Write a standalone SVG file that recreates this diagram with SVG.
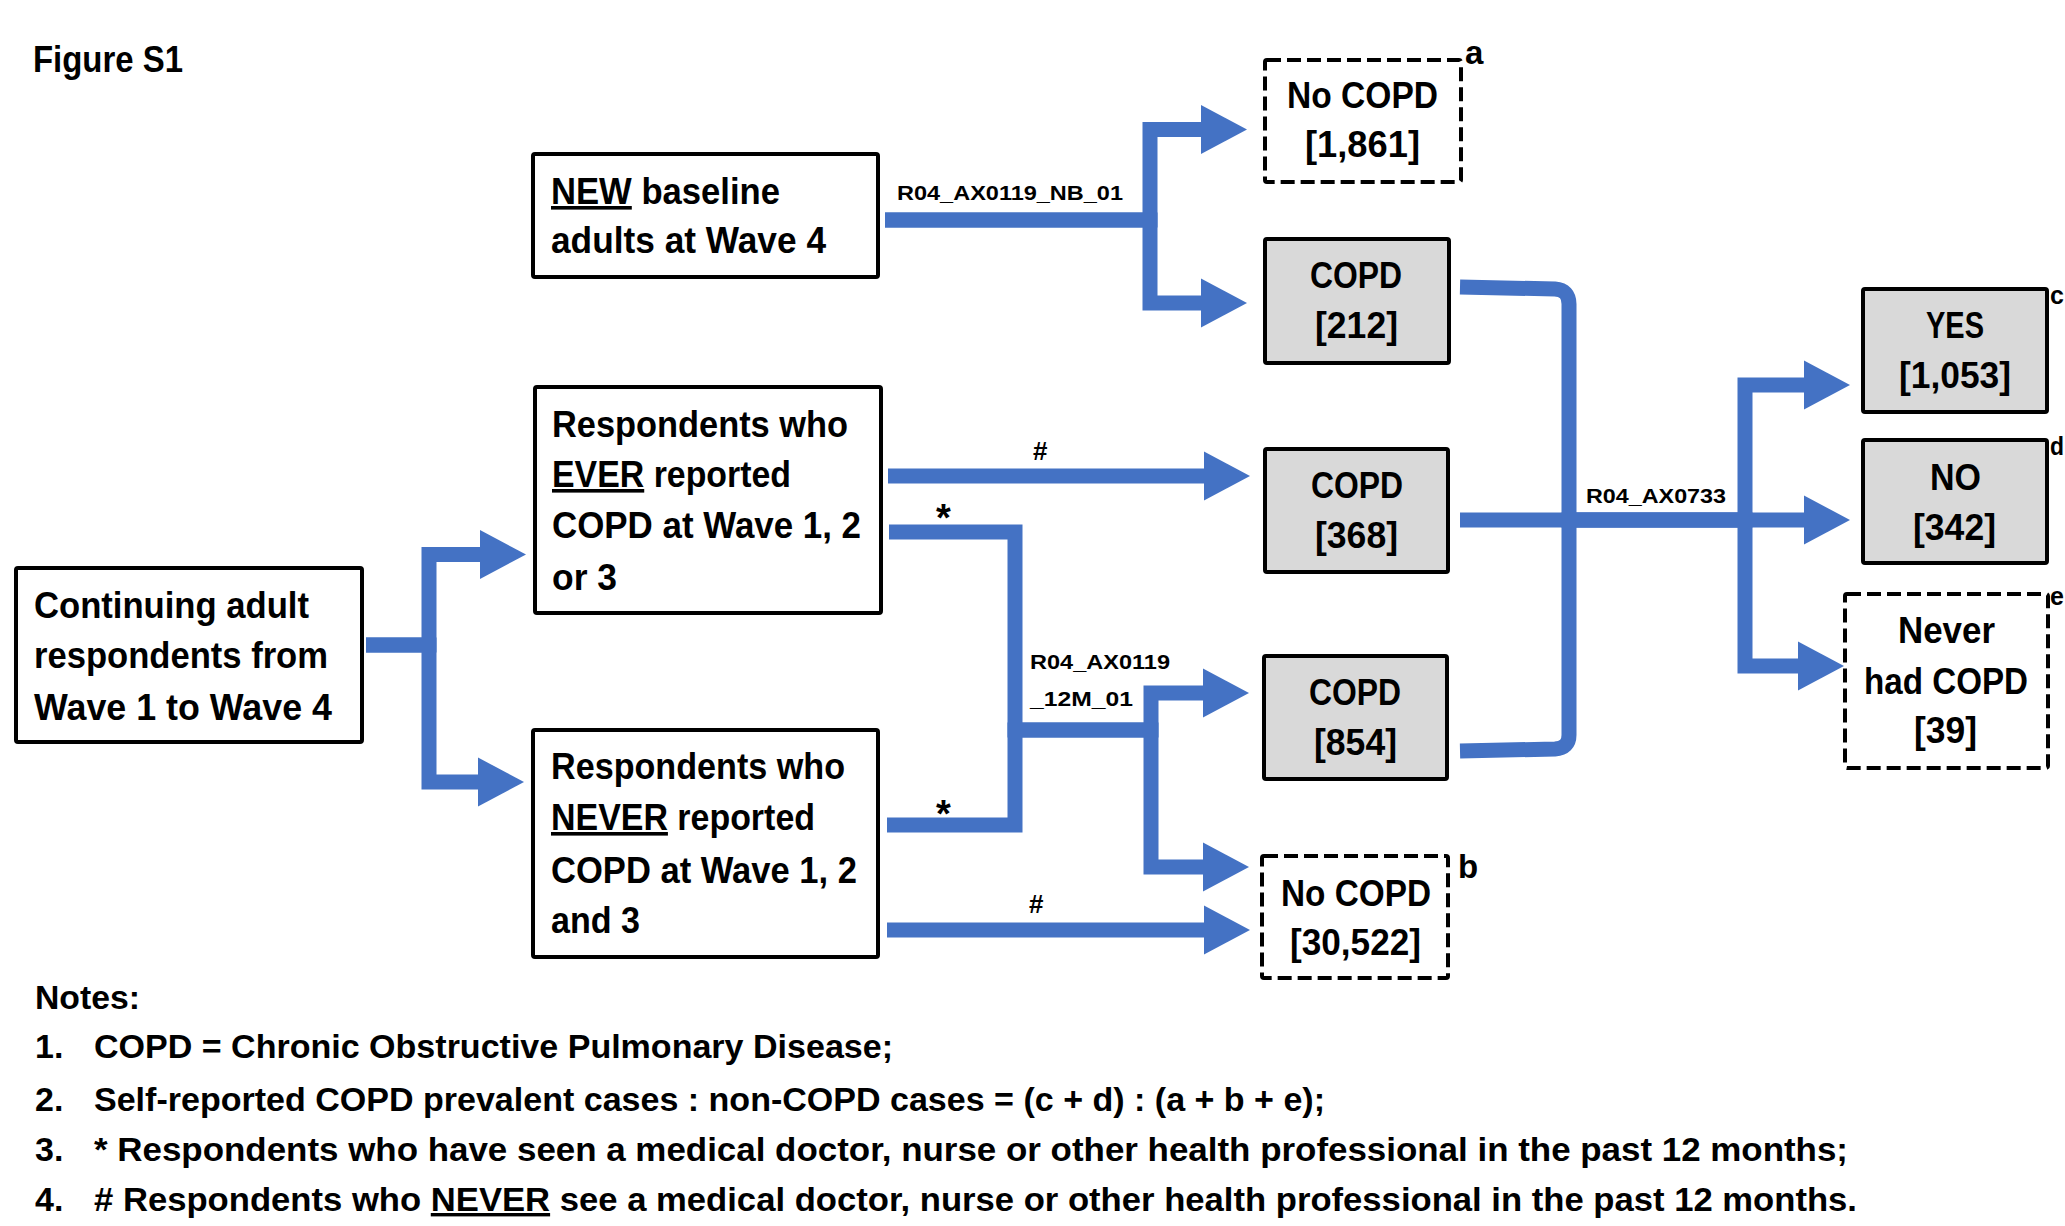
<svg xmlns="http://www.w3.org/2000/svg" width="2065" height="1226" viewBox="0 0 2065 1226">
<style>
.t{font-family:"Liberation Sans",Arial,sans-serif;font-weight:bold;fill:#000}
.n{font-size:36px}
.s{font-size:21px}
.m{font-size:34px}
.l{font-size:33px}
.r{font-size:25px}
.u{text-decoration:underline}
.box{fill:#fff;stroke:#000;stroke-width:4}
.grey{fill:#D9D9D9}
.dash{stroke-dasharray:14 6}
.conn{fill:none;stroke:#4472C4;stroke-width:15;stroke-linejoin:miter}
</style>
<defs>
<marker id="ah" markerUnits="userSpaceOnUse" markerWidth="48" markerHeight="50" viewBox="0 -25 48 50" refX="1" refY="0" orient="auto">
<path d="M0,-24.5 L46,0 L0,24.5 z" fill="#4472C4"/>
</marker>
</defs>
<rect width="2065" height="1226" fill="#fff"/>
<text class="t" style="font-size:37px" x="33" y="72" textLength="150" lengthAdjust="spacingAndGlyphs">Figure S1</text>

<g id="connectors">
<path class="conn" d="M366,645 H429 V554.5 H481" marker-end="url(#ah)"/>
<path class="conn" d="M366,645 H429 V782 H479" marker-end="url(#ah)"/>
<path class="conn" d="M885,220 H1150 V129.5 H1202" marker-end="url(#ah)"/>
<path class="conn" d="M885,220 H1150 V303 H1202" marker-end="url(#ah)"/>
<path class="conn" d="M888,476 H1205" marker-end="url(#ah)"/>
<path class="conn" d="M889,532 H1015 V730 H1151 V693 H1204" marker-end="url(#ah)"/>
<path class="conn" d="M887,825 H1015 V730 H1151 V867 H1204" marker-end="url(#ah)"/>
<path class="conn" d="M887,930 H1205" marker-end="url(#ah)"/>
<path class="conn" d="M1460,287 L1555,289 Q1569,290 1569,304 V520 H1745 V385 H1805" marker-end="url(#ah)"/>
<path class="conn" d="M1460,520 H1805" marker-end="url(#ah)"/>
<path class="conn" d="M1460,751 L1555,749 Q1569,748 1569,735 V520 H1745 V666 H1799" marker-end="url(#ah)"/>
<text class="t s" x="897" y="200" textLength="226" lengthAdjust="spacingAndGlyphs">R04_AX0119_NB_01</text>
<text class="t" style="font-size:26px" x="1033" y="460">#</text>
<text class="t" style="font-size:38px" x="936" y="531">*</text>
<text class="t" style="font-size:38px" x="936" y="827">*</text>
<text class="t" style="font-size:26px" x="1029" y="913">#</text>
<text class="t s" x="1030" y="669" textLength="140" lengthAdjust="spacingAndGlyphs">R04_AX0119</text>
<text class="t s" x="1030" y="706" textLength="103" lengthAdjust="spacingAndGlyphs">_12M_01</text>
<text class="t s" x="1586" y="503" textLength="140" lengthAdjust="spacingAndGlyphs">R04_AX0733</text>
</g>

<g id="node-new">
<rect class="box" x="533" y="154" width="345" height="123" rx="2"/>
<text class="t n" x="551" y="204" textLength="229" lengthAdjust="spacingAndGlyphs"><tspan class="u">NEW</tspan> baseline</text>
<text class="t n" x="551" y="253" textLength="275" lengthAdjust="spacingAndGlyphs">adults at Wave 4</text>
</g>

<g id="node-continuing">
<rect class="box" x="16" y="568" width="346" height="174" rx="2"/>
<text class="t n" x="34" y="618" textLength="275" lengthAdjust="spacingAndGlyphs">Continuing adult</text>
<text class="t n" x="34" y="668" textLength="294" lengthAdjust="spacingAndGlyphs">respondents from</text>
<text class="t n" x="34" y="720" textLength="298" lengthAdjust="spacingAndGlyphs">Wave 1 to Wave 4</text>
</g>

<g id="node-ever">
<rect class="box" x="535" y="387" width="346" height="226" rx="2"/>
<text class="t n" x="552" y="437" textLength="296" lengthAdjust="spacingAndGlyphs">Respondents who</text>
<text class="t n" x="552" y="487" textLength="239" lengthAdjust="spacingAndGlyphs"><tspan class="u">EVER</tspan> reported</text>
<text class="t n" x="552" y="538" textLength="309" lengthAdjust="spacingAndGlyphs">COPD at Wave 1, 2</text>
<text class="t n" x="552" y="590" textLength="65" lengthAdjust="spacingAndGlyphs">or 3</text>
</g>

<g id="node-never">
<rect class="box" x="533" y="730" width="345" height="227" rx="2"/>
<text class="t n" x="551" y="779" textLength="294" lengthAdjust="spacingAndGlyphs">Respondents who</text>
<text class="t n" x="551" y="830" textLength="264" lengthAdjust="spacingAndGlyphs"><tspan class="u">NEVER</tspan> reported</text>
<text class="t n" x="551" y="883" textLength="306" lengthAdjust="spacingAndGlyphs">COPD at Wave 1, 2</text>
<text class="t n" x="551" y="933" textLength="89" lengthAdjust="spacingAndGlyphs">and 3</text>
</g>

<g id="node-nocopd-a">
<rect class="box dash" x="1265" y="60" width="196" height="122" rx="2"/>
<text class="t n" x="1287" y="108" textLength="151" lengthAdjust="spacingAndGlyphs">No COPD</text>
<text class="t n" x="1305" y="157" textLength="115" lengthAdjust="spacingAndGlyphs">[1,861]</text>
<text class="t l" x="1465" y="64">a</text>
</g>

<g id="node-copd-212">
<rect class="box grey" x="1265" y="239" width="184" height="124" rx="2"/>
<text class="t n" x="1310" y="288" textLength="92" lengthAdjust="spacingAndGlyphs">COPD</text>
<text class="t n" x="1315" y="338" textLength="83" lengthAdjust="spacingAndGlyphs">[212]</text>
</g>

<g id="node-copd-368">
<rect class="box grey" x="1265" y="449" width="183" height="123" rx="2"/>
<text class="t n" x="1311" y="498" textLength="92" lengthAdjust="spacingAndGlyphs">COPD</text>
<text class="t n" x="1315" y="548" textLength="83" lengthAdjust="spacingAndGlyphs">[368]</text>
</g>

<g id="node-copd-854">
<rect class="box grey" x="1264" y="656" width="183" height="123" rx="2"/>
<text class="t n" x="1309" y="705" textLength="92" lengthAdjust="spacingAndGlyphs">COPD</text>
<text class="t n" x="1314" y="755" textLength="83" lengthAdjust="spacingAndGlyphs">[854]</text>
</g>

<g id="node-nocopd-b">
<rect class="box dash" x="1262" y="856" width="186" height="122" rx="2"/>
<text class="t n" x="1281" y="906" textLength="150" lengthAdjust="spacingAndGlyphs">No COPD</text>
<text class="t n" x="1290" y="955" textLength="131" lengthAdjust="spacingAndGlyphs">[30,522]</text>
<text class="t l" x="1458" y="878">b</text>
</g>

<g id="node-yes">
<rect class="box grey" x="1863" y="289" width="184" height="123" rx="2"/>
<text class="t n" x="1926" y="338" textLength="58" lengthAdjust="spacingAndGlyphs">YES</text>
<text class="t n" x="1899" y="388" textLength="112" lengthAdjust="spacingAndGlyphs">[1,053]</text>
<text class="t r" x="2050" y="304">c</text>
</g>

<g id="node-no">
<rect class="box grey" x="1863" y="440" width="184" height="123" rx="2"/>
<text class="t n" x="1930" y="490" textLength="51" lengthAdjust="spacingAndGlyphs">NO</text>
<text class="t n" x="1913" y="540" textLength="83" lengthAdjust="spacingAndGlyphs">[342]</text>
<text class="t r" x="2050" y="455" textLength="14" lengthAdjust="spacingAndGlyphs">d</text>
</g>

<g id="node-never-had">
<rect class="box dash" x="1845" y="594" width="203" height="174" rx="2"/>
<text class="t n" x="1898" y="643" textLength="97" lengthAdjust="spacingAndGlyphs">Never</text>
<text class="t n" x="1864" y="694" textLength="164" lengthAdjust="spacingAndGlyphs">had COPD</text>
<text class="t n" x="1914" y="743" textLength="63" lengthAdjust="spacingAndGlyphs">[39]</text>
<text class="t r" x="2050" y="605">e</text>
</g>

<g id="notes">
<text class="t m" x="35" y="1009" textLength="105" lengthAdjust="spacingAndGlyphs">Notes:</text>
<text class="t m" x="35" y="1058">1.</text>
<text class="t m" x="94" y="1058" textLength="799" lengthAdjust="spacingAndGlyphs">COPD = Chronic Obstructive Pulmonary Disease;</text>
<text class="t m" x="35" y="1111">2.</text>
<text class="t m" x="94" y="1111" textLength="1231" lengthAdjust="spacingAndGlyphs">Self-reported COPD prevalent cases : non-COPD cases = (c + d) : (a + b + e);</text>
<text class="t m" x="35" y="1161">3.</text>
<text class="t m" x="94" y="1161" textLength="1754" lengthAdjust="spacingAndGlyphs">* Respondents who have seen a medical doctor, nurse or other health professional in the past 12 months;</text>
<text class="t m" x="35" y="1211">4.</text>
<text class="t m" x="94" y="1211" textLength="1763" lengthAdjust="spacingAndGlyphs"># Respondents who <tspan class="u">NEVER</tspan> see a medical doctor, nurse or other health professional in the past 12 months.</text>
</g>
</svg>
